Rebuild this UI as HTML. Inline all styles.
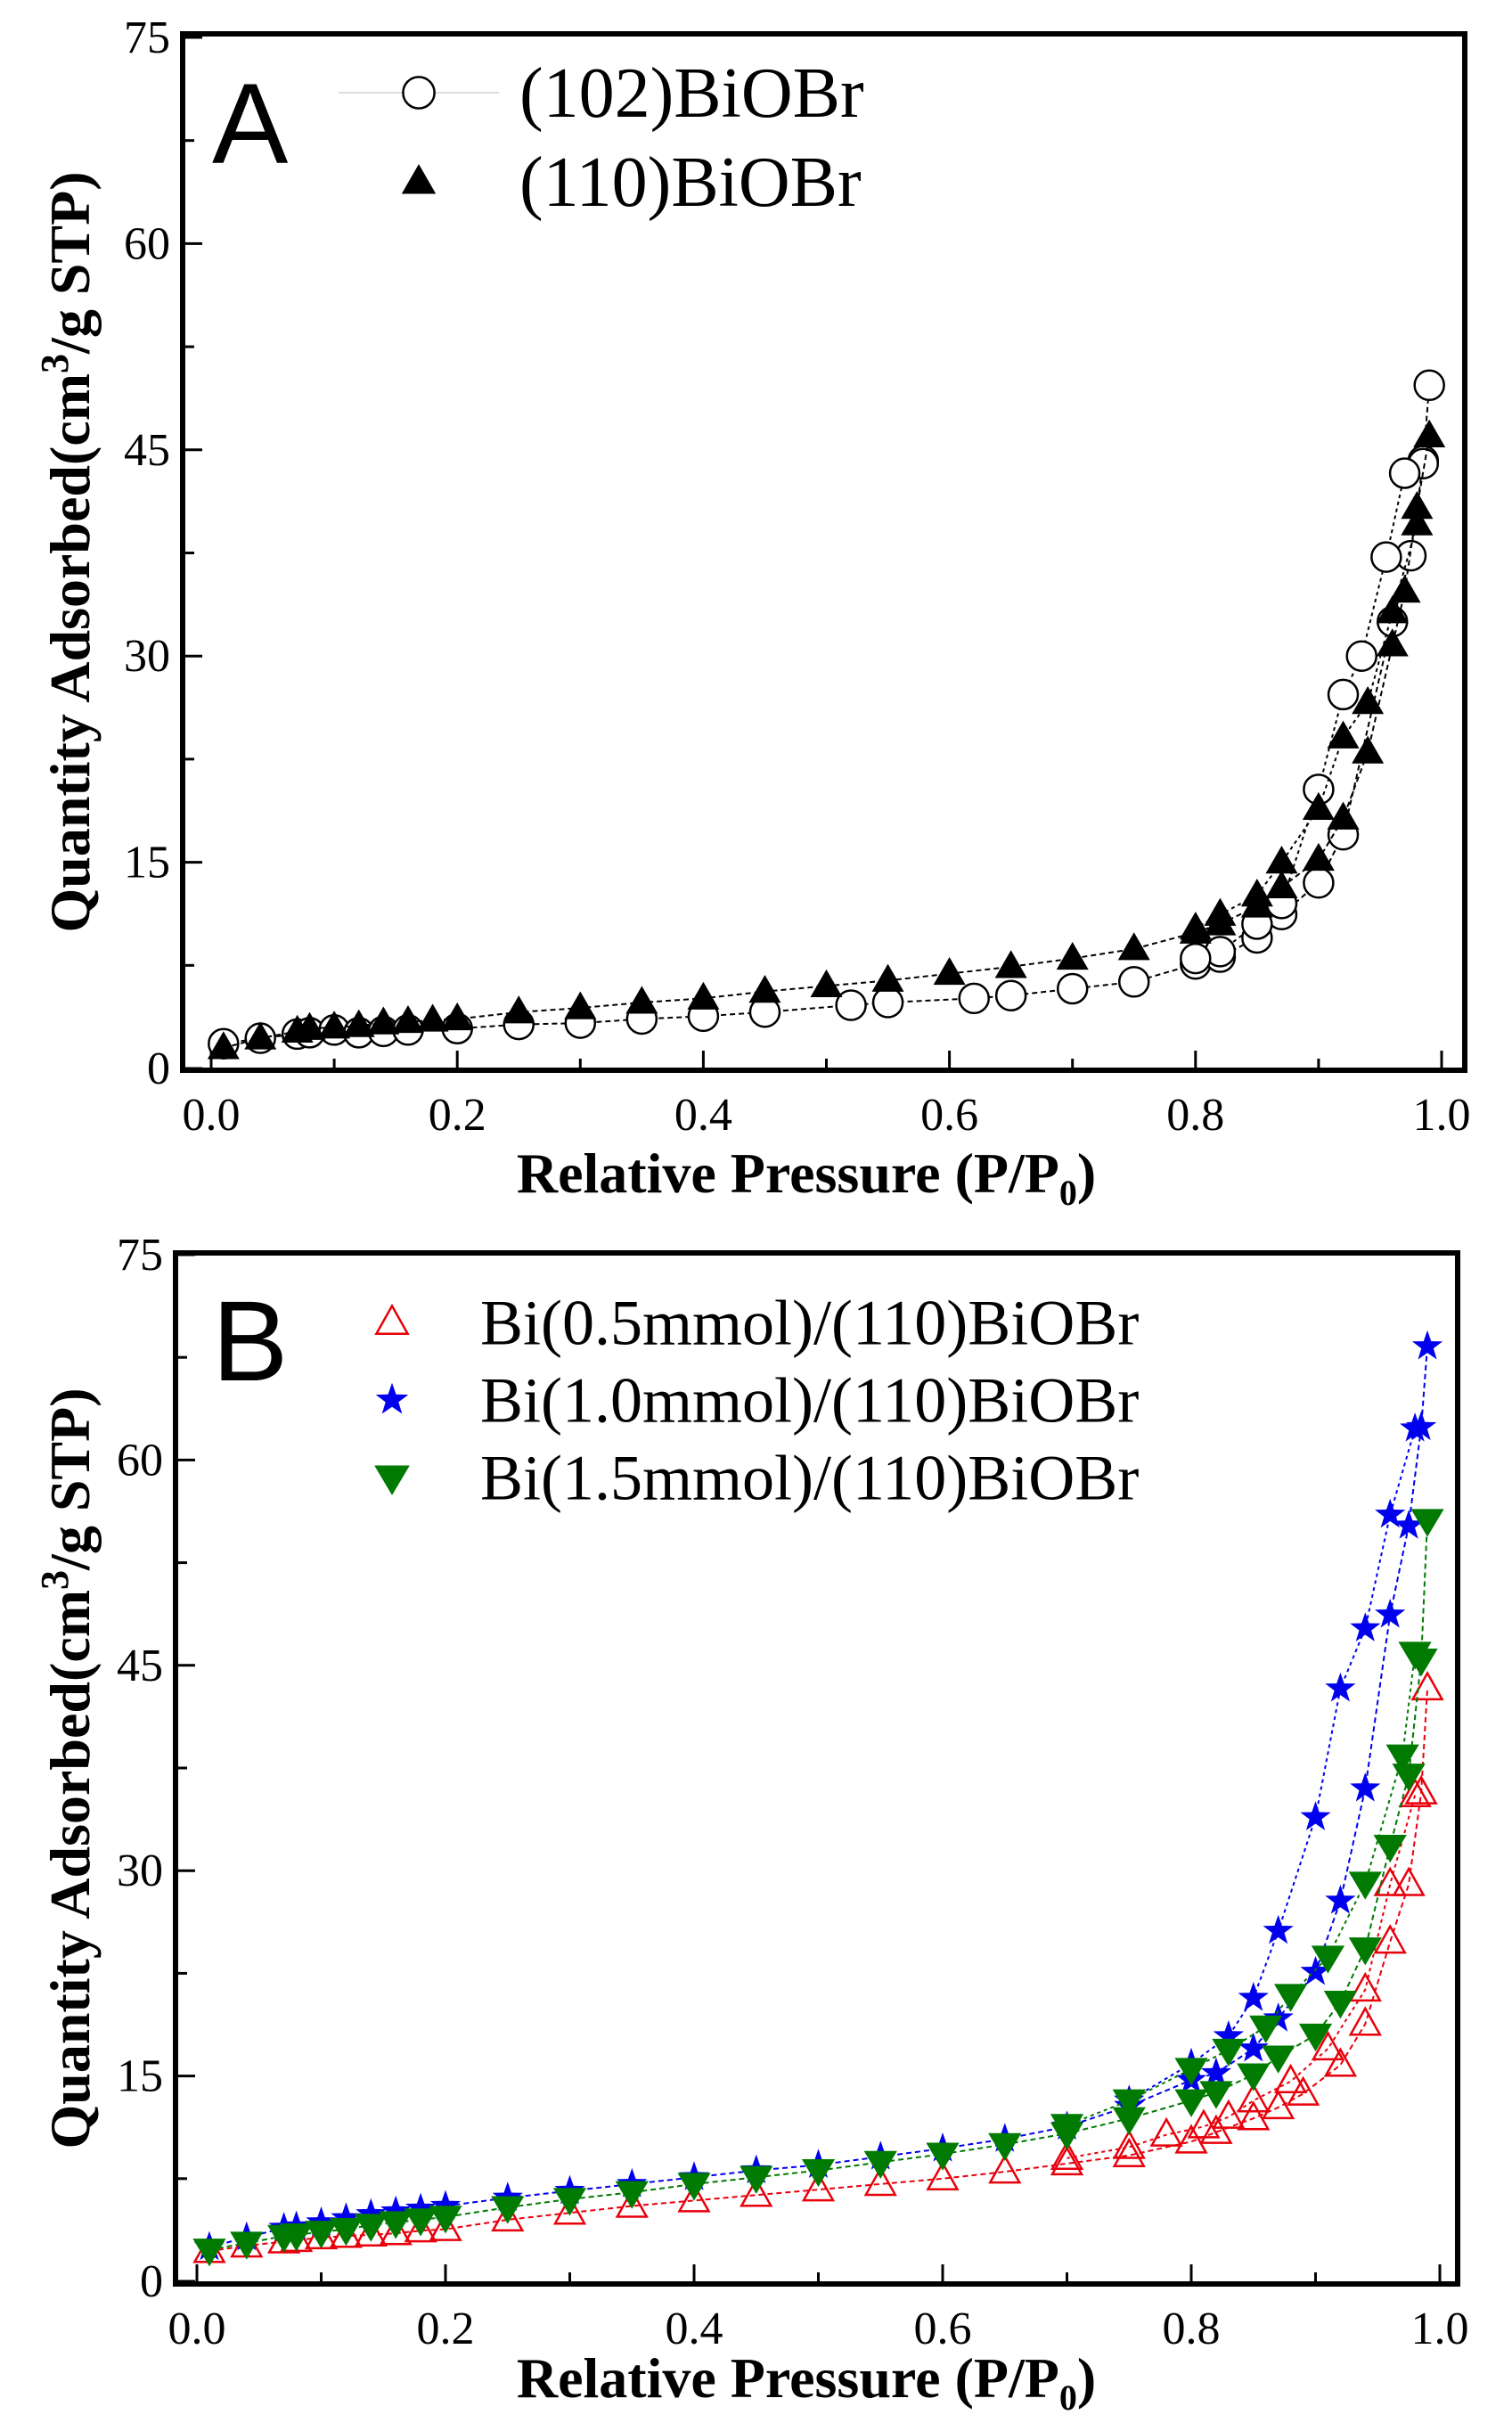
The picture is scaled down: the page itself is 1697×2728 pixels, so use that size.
<!DOCTYPE html>
<html><head><meta charset="utf-8"><style>
html,body{margin:0;padding:0;background:#fff}
svg{display:block}
text{font-family:"Liberation Serif",serif}
</style></head><body>
<svg id="fig" width="1697" height="2728" viewBox="0 0 1697 2728" xmlns="http://www.w3.org/2000/svg"></svg>
<script>
// ---- data (x = relative pressure, y = quantity adsorbed) ----
const xTicks=[0,0.2,0.4,0.6,0.8,1.0];
const xTickLabels=["0.0","0.2","0.4","0.6","0.8","1.0"];
const yTicks=[0,15,30,45,60,75];
const yTickLabels=["0","15","30","45","60","75"];
// Panel A
const a102AdsX=[0.01,0.04,0.07,0.08,0.10,0.12,0.14,0.16,0.20,0.25,0.30,0.35,0.40,0.45,0.52,0.55,0.62,0.65,0.70,0.75,0.80,0.82,0.85,0.87,0.90,0.92,0.96,0.975,0.985,0.99];
const a102AdsY=[1.8,2.2,2.5,2.6,2.8,2.6,2.7,2.8,2.9,3.2,3.3,3.6,3.8,4.1,4.6,4.8,5.1,5.3,5.8,6.3,7.6,8.1,9.5,11.2,13.5,17.0,32.5,37.3,44.2,49.7];
const a102DesX=[0.985,0.97,0.955,0.935,0.92,0.90,0.87,0.85,0.82,0.80];
const a102DesY=[44.0,43.3,37.2,30.0,27.2,20.3,12.0,10.5,8.5,8.0];
const a110AdsX=[0.01,0.04,0.07,0.08,0.10,0.12,0.14,0.16,0.18,0.20,0.25,0.30,0.35,0.40,0.45,0.50,0.55,0.60,0.65,0.70,0.75,0.80,0.82,0.85,0.87,0.90,0.92,0.94,0.96,0.97,0.98,0.99];
const a110AdsY=[1.5,2.2,2.7,2.9,3.0,3.1,3.3,3.4,3.5,3.6,4.1,4.4,4.8,5.1,5.6,6.0,6.4,6.9,7.4,8.0,8.7,9.9,10.5,11.8,13.2,15.2,18.2,23.0,30.8,34.7,40.8,46.0];
const a110DesX=[0.98,0.96,0.94,0.92,0.90,0.87,0.85,0.82,0.80];
const a110DesY=[39.6,33.2,26.6,24.1,18.9,15.0,12.6,11.2,10.2];
// Panel B
const b05AdsX=[0.01,0.04,0.07,0.08,0.10,0.12,0.14,0.16,0.18,0.20,0.25,0.30,0.35,0.40,0.45,0.50,0.55,0.60,0.65,0.70,0.75,0.80,0.82,0.85,0.87,0.89,0.92,0.94,0.96,0.975,0.985,0.99];
const b05AdsY=[2.2,2.6,2.9,3.0,3.2,3.3,3.4,3.5,3.7,3.8,4.5,5.0,5.5,5.9,6.3,6.7,7.1,7.5,8.0,8.6,9.2,10.2,10.9,11.9,12.7,13.7,15.8,18.8,24.8,29.0,35.7,43.3];
const b05DesX=[0.98,0.96,0.94,0.91,0.88,0.85,0.83,0.81,0.78,0.75,0.70];
const b05DesY=[35.5,29.0,21.3,17.0,14.6,13.2,12.0,11.3,10.7,9.8,9.0];
const b10AdsX=[0.01,0.04,0.07,0.08,0.10,0.12,0.14,0.16,0.18,0.20,0.25,0.30,0.35,0.40,0.45,0.50,0.55,0.60,0.65,0.70,0.75,0.80,0.82,0.85,0.87,0.90,0.92,0.94,0.96,0.975,0.985,0.99];
const b10AdsY=[2.5,3.2,3.9,4.0,4.3,4.6,4.9,5.1,5.3,5.5,6.1,6.6,7.1,7.6,8.1,8.5,9.1,9.7,10.4,11.3,12.8,14.7,15.2,17.0,19.2,22.6,27.8,36.0,48.7,55.2,62.4,68.3];
const b10DesX=[0.98,0.96,0.94,0.92,0.90,0.87,0.85,0.83,0.80,0.75];
const b10DesY=[62.3,56.0,47.7,43.3,33.9,25.6,20.7,17.9,15.9,13.2];
const b15AdsX=[0.01,0.04,0.07,0.08,0.10,0.12,0.14,0.16,0.18,0.20,0.25,0.30,0.35,0.40,0.45,0.50,0.55,0.60,0.65,0.70,0.75,0.80,0.82,0.85,0.87,0.90,0.92,0.94,0.96,0.975,0.985,0.99];
const b15AdsY=[2.3,2.8,3.3,3.4,3.6,3.8,4.1,4.3,4.5,4.7,5.4,6.0,6.5,7.1,7.6,8.1,8.7,9.3,10.0,10.8,11.9,13.2,13.8,15.1,16.4,18.0,20.4,24.3,31.8,37.0,45.4,55.6];
const b15DesX=[0.98,0.97,0.94,0.91,0.88,0.86,0.83,0.80,0.75,0.70];
const b15DesY=[45.9,38.4,29.1,23.7,20.9,18.6,16.9,15.5,13.2,11.4];

const NS="http://www.w3.org/2000/svg";
const svg=document.getElementById('fig');
function mk(tag,attrs,parent){const e=document.createElementNS(NS,tag);for(const k in attrs)e.setAttribute(k,attrs[k]);(parent||svg).appendChild(e);return e;}

function panel(cfg){
  const g=mk('g',{});
  
  
  const sx=v=>cfg.x0+(cfg.x1-cfg.x0)*v;
  const sy=v=>cfg.y0+(cfg.y75-cfg.y0)*v/75;
  cfg.sx=sx;cfg.sy=sy;cfg.g=g;
  for(let i=0;i<=10;i++){const v=i*0.1;const X=sx(v);const major=(i%2===0);
    const t=mk('line',{x1:X,x2:X,y1:cfg.B,y2:cfg.B-(major?22:13),stroke:'#000','stroke-width':3},g);
    }
  for(let v=0;v<=75;v+=7.5){const Y=sy(v);const major=(v%15===0);
    const t=mk('line',{x1:cfg.L,x2:cfg.L+(major?22:13),y1:Y,y2:Y,stroke:'#000','stroke-width':3},g);
    }
  xTicks.forEach((v,i)=>{const t=mk('text',{x:sx(v),y:cfg.xlabY,'font-size':52,'text-anchor':'middle'},g);t.textContent=xTickLabels[i];
    });
  yTicks.forEach((v,i)=>{const t=mk('text',{x:cfg.L-14,y:sy(v)+17,'font-size':52,'text-anchor':'end'},g);t.textContent=yTickLabels[i];
    });
  const xt=mk('text',{x:905,y:cfg.xtitleY,'font-size':64,'font-weight':'bold','text-anchor':'middle'},g);
  xt.innerHTML='Relative Pressure (P/P<tspan font-size="40" dy="14">0</tspan><tspan dy="-14">)</tspan>';
  
  const cy=(cfg.T+cfg.B)/2;
  const yt=mk('text',{x:0,y:0,'font-size':64,'font-weight':'bold','text-anchor':'middle',transform:`translate(100,${cy}) rotate(-90)`},g);
  yt.innerHTML='Quantity Adsorbed(cm<tspan font-size="44" dy="-24">3</tspan><tspan dy="24">/g STP)</tspan>';
  
  const lt=mk('text',{x:238,y:cfg.letterY,'font-size':128},g);
  lt.setAttribute('style','font-family:"Liberation Sans",sans-serif');
  lt.textContent=cfg.letter;
  return cfg;
}
function frame(cfg){const r=mk('rect',{x:cfg.L,y:cfg.T,width:cfg.R-cfg.L,height:cfg.B-cfg.T,fill:'none',stroke:'#000','stroke-width':6},cfg.g);
  }

function marker(g,type,X,Y,color,s){
  let e;
  if(type==='circle')e=mk('circle',{cx:X,cy:Y,r:s*0.55,fill:'#fff',stroke:color,'stroke-width':2.5},g);
  else if(type==='tri')e=mk('path',{d:`M${X},${Y-s*0.62}L${X+s*0.6},${Y+s*0.42}L${X-s*0.6},${Y+s*0.42}Z`,fill:color},g);
  else if(type==='otri')e=mk('path',{d:`M${X},${Y-s*0.58}L${X+s*0.55},${Y+s*0.4}L${X-s*0.55},${Y+s*0.4}Z`,fill:'none',stroke:color,'stroke-width':2.5},g);
  else if(type==='dtri')e=mk('path',{d:`M${X},${Y+s*0.62}L${X+s*0.62},${Y-s*0.42}L${X-s*0.62},${Y-s*0.42}Z`,fill:color},g);
  else {let p='';for(let i=0;i<10;i++){const r=i%2?s*0.24:s*0.6;const a=-Math.PI/2+i*Math.PI/5;p+=(i?'L':'M')+(X+r*Math.cos(a)).toFixed(1)+','+(Y+r*Math.sin(a)).toFixed(1);}
    e=mk('path',{d:p+'Z',fill:color},g);}
  return e;
}
function series(cfg,name,xs,ys,type,color,dash){
  const g=mk('g',{},cfg.g);
  
  const pts=xs.map((x,i)=>cfg.sx(x).toFixed(1)+','+cfg.sy(ys[i]).toFixed(1)).join(' ');
  const l=mk('polyline',{points:pts,fill:'none',stroke:color,'stroke-width':2,'stroke-dasharray':dash},g);
  
  xs.forEach((x,i)=>{const m=marker(g,type,cfg.sx(x),cfg.sy(ys[i]),color,30);
    });
}
function legend(cfg,type,color,mx,my,label,tx,fs,name){
  const g=mk('g',{},cfg.g);
  
  marker(g,type,mx,my,color,32);
  const t=mk('text',{x:tx,y:my+fs*0.34,'font-size':fs},g);t.textContent=label;
}

// Panel A
const A=panel({name:'panel-a',L:205,R:1644,T:38,B:1201,x0:237,x1:1618,y0:1199,y75:42,xlabY:1268,xtitleY:1338,letter:'A',letterY:183});
series(A,'a102-adsorption',a102AdsX,a102AdsY,'circle','#000','6,4');
series(A,'a102-desorption',a102DesX,a102DesY,'circle','#000','4,4');
series(A,'a110-adsorption',a110AdsX,a110AdsY,'tri','#000','6,4');
series(A,'a110-desorption',a110DesX,a110DesY,'tri','#000','4,4');
mk('line',{x1:380,x2:560,y1:104,y2:104,stroke:'#ddd','stroke-width':2},A.g);
legend(A,'circle','#000',470,104,'(102)BiOBr',583,80,'legend-102');
legend(A,'tri','#000',470,204,'(110)BiOBr',583,80,'legend-110');
frame(A);

// Panel B
const B=panel({name:'panel-b',L:197,R:1636,T:1406,B:2563,x0:221,x1:1616,y0:2560,y75:1408,xlabY:2630,xtitleY:2690,letter:'B',letterY:1549});
series(B,'b05-adsorption',b05AdsX,b05AdsY,'otri','#e8000b','6,4');
series(B,'b05-desorption',b05DesX,b05DesY,'otri','#e8000b','4,4');
series(B,'b10-adsorption',b10AdsX,b10AdsY,'star','#0000ee','6,4');
series(B,'b10-desorption',b10DesX,b10DesY,'star','#0000ee','4,4');
series(B,'b15-adsorption',b15AdsX,b15AdsY,'dtri','#007a00','6,4');
series(B,'b15-desorption',b15DesX,b15DesY,'dtri','#007a00','4,4');
legend(B,'otri','#e8000b',440,1484,'Bi(0.5mmol)/(110)BiOBr',539,72,'legend-bi05');
legend(B,'star','#0000ee',440,1571,'Bi(1.0mmol)/(110)BiOBr',539,72,'legend-bi10');
legend(B,'dtri','#007a00',440,1658,'Bi(1.5mmol)/(110)BiOBr',539,72,'legend-bi15');
frame(B);
</script>
</body></html>
